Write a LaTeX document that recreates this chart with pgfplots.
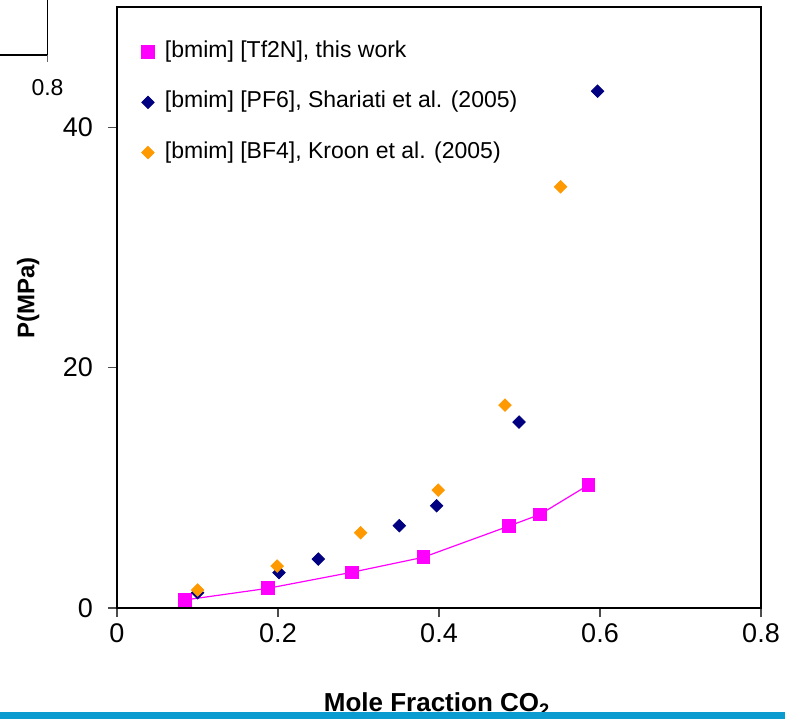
\documentclass[border=0pt]{standalone}
\usepackage{pgfplots}
\pgfplotsset{compat=1.18}
\usepackage{fontspec}
\setmainfont{Liberation Sans}
\definecolor{mag}{RGB}{255,0,255}
\definecolor{navyc}{RGB}{0,0,128}
\definecolor{orng}{RGB}{255,153,0}
\definecolor{barblue}{RGB}{10,155,208}
\begin{document}
\begin{tikzpicture}
\begin{axis}[
  at={(58.5pt,55.5pt)}, anchor=south west,
  scale only axis, width=322pt, height=300.5pt,
  xmin=0, xmax=0.8, ymin=0, ymax=50,
  xtick={0,0.2,0.4,0.6,0.8}, ytick={0,20,40},
  tick pos=left, tick align=outside, major tick length=4.5pt,
  axis line style={line width=0.75pt},
  every tick/.style={black!70, line width=0.6pt},
  ticklabel style={font=\fontsize{13.5}{16}\selectfont},
  yticklabel style={xshift=-4pt},
  /pgf/number format/assume math mode=true,
  xlabel={Mole Fraction CO\textsubscript{2}},
  ylabel={P(MPa)},
  label style={font=\fontsize{12}{14}\selectfont\bfseries},
  xlabel style={at={(axis description cs:0.497,-0.173)}, anchor=base, font=\fontsize{13}{15}\selectfont\bfseries},
  ylabel style={at={(axis description cs:-0.138,0.516)}, anchor=center},
  legend style={at={(axis description cs:0.035,0.943)}, anchor=north west,
    draw=none, fill=none, font=\fontsize{11.5}{13}\selectfont,
    row sep=14.6pt, inner sep=0pt,
    nodes={inner xsep=0pt, inner ysep=0pt, text height=8pt, text depth=2.5pt}},
  legend cell align=left,
  legend image code/.code={\path[draw=none,fill=none] (-4pt,0pt) rectangle (8.5pt,0.1pt); \draw[mark repeat=1,mark phase=1,#1] plot coordinates {(0pt,0pt)};},
]
\addplot[mag, line width=0.6pt, mark=none, forget plot] coordinates {
(0.0845,0.67) (0.1876,1.64) (0.2915,2.97) (0.3805,4.22) (0.4870,6.82) (0.5255,7.79) (0.5855,10.23)};
\addplot[only marks, mark=square*, mark size=3.2pt, color=mag] coordinates {
(0.0845,0.67) (0.1876,1.64) (0.2915,2.97) (0.3805,4.22) (0.4870,6.82) (0.5255,7.79) (0.5855,10.23)};
\addlegendentry{[bmim] [Tf2N], this work}
\addplot[only marks, mark=square*, mark size=2.2pt, mark options={rotate=45}, color=navyc] coordinates {
(0.1002,1.27) (0.2012,2.94) (0.2501,4.07) (0.3507,6.85) (0.397,8.51) (0.4994,15.47) (0.597,43.0)};
\addlegendentry{[bmim] [PF6], Shariati et al. (2005)}
\addplot[only marks, mark=square*, mark size=2.2pt, mark options={rotate=45}, color=orng] coordinates {
(0.1002,1.50) (0.199,3.49) (0.3027,6.26) (0.399,9.81) (0.482,16.88) (0.551,35.04)};
\addlegendentry{[bmim] [BF4], Kroon et al. (2005)}
\end{axis}
\begin{scope}[x=0.5pt,y=0.5pt]
\draw[line width=0.75pt] (47.5,719) -- (47.5,664) -- (0,664);
\draw[black!60, line width=0.6pt] (47.5,664) -- (47.5,657);
\node at (47.5,631) {\fontsize{11.5}{13}\selectfont 0.8};
\fill[barblue] (0,0) rectangle (785,7);
\end{scope}
\pgfresetboundingbox
\useasboundingbox (0,0) rectangle (392.5pt,359.5pt);
\end{tikzpicture}
\end{document}
